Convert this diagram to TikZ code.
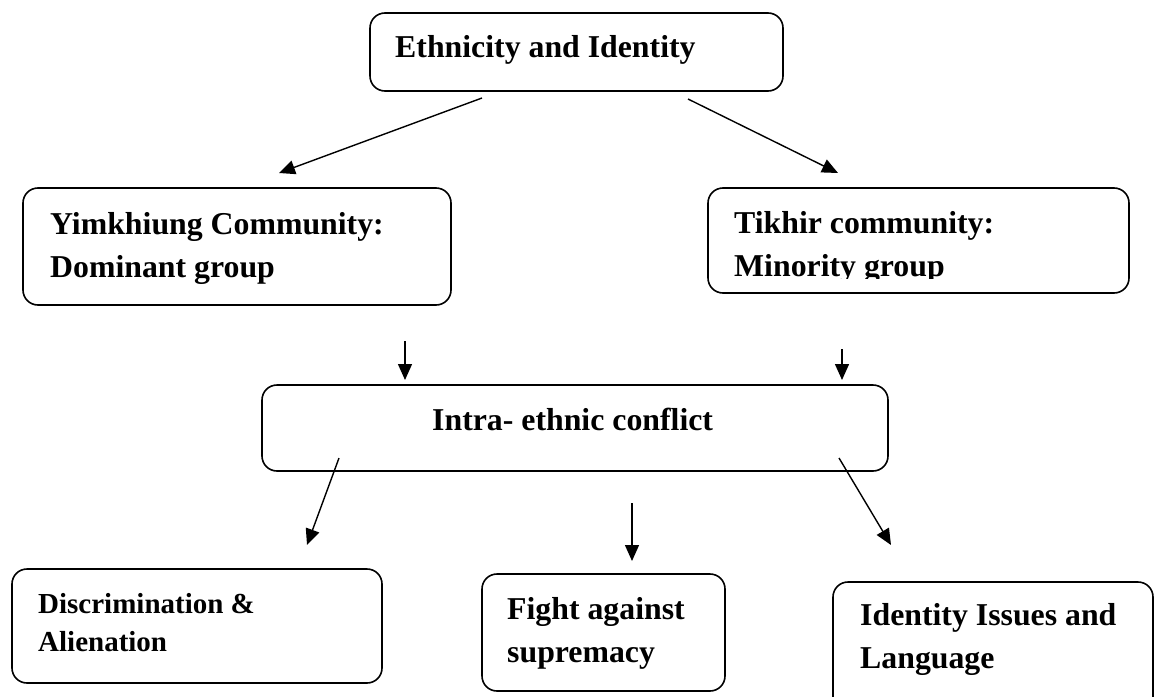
\documentclass[tikz,border=0pt]{standalone}
\usepackage{fontspec}
\setmainfont{Liberation Serif}
\usetikzlibrary{arrows.meta}
\begin{document}
\begin{tikzpicture}[x=1pt, y=-1pt, line join=round, >={Triangle[length=16pt,width=14pt]},
        khung/.style={draw, line width=1.6pt, rounded corners=15pt, inner sep=0pt},
        chu/.style={anchor=base west, inner sep=0pt, align=left, font=\bfseries\fontsize{31.8}{42.5}\selectfont},
        chunho/.style={chu, font=\bfseries\fontsize{29}{38}\selectfont},
        muiten/.style={->, line width=1.4pt}]
                \clip (0,0) rectangle (1156,696);
                % cac khung
                \node[khung, minimum width=413pt, minimum height=78pt] (eth) at (576.5,52) {};
                \node[khung, minimum width=428pt, minimum height=117pt] (yim) at (237,246.5) {};
                \node[khung, minimum width=421pt, minimum height=105pt] (tik) at (918.5,240.5) {};
                \node[khung, minimum width=626pt, minimum height=86pt] (intra) at (575,428) {};
                \node[khung, minimum width=370pt, minimum height=114pt] (dis) at (197,626) {};
                \node[khung, minimum width=243pt, minimum height=117pt] (fight) at (603.5,632.5) {};
                \node[khung, minimum width=320pt, minimum height=138pt] (iden) at (993,651) {};
                % chu trong khung (goc = dong cuoi)
                \node[chu] (eth-t) at (395,57) {Ethnicity and Identity};
                \node[chu] (yim-t) at (50,277) {Yimkhiung Community:\\Dominant group};
                \begin{scope}
                \clip (700,180) rectangle (1125,278);
                \node[chu] (tik-t) at (734,276) {Tikhir community:\\Minority group};
                \end{scope}
                \node[chu] (intra-t) at (432,430) {Intra- ethnic conflict};
                \node[chunho] (dis-t) at (38,651) {Discrimination \&\\Alienation};
                \node[chu] (fight-t) at (507,662) {Fight against\\supremacy};
                \node[chu] (iden-t) at (860,668) {Identity Issues and\\Language};
                % dau va cuoi mui ten
                \coordinate (e1) at (482,98);
                \coordinate (e2) at (688,99);
                \coordinate (y1) at (279,173);
                \coordinate (t1) at (838,173);
                \coordinate (y2) at (405,341);
                \coordinate (t2) at (842,349);
                \coordinate (i1) at (405,380);
                \coordinate (i2) at (842,380);
                \coordinate (i3) at (339,458);
                \coordinate (i4) at (632,503);
                \coordinate (i5) at (839,458);
                \coordinate (d1) at (307,545);
                \coordinate (f1) at (632,561);
                \coordinate (n1) at (891,545);
                \foreach \a/\b in {e1/y1, e2/t1, y2/i1, t2/i2, i3/d1, i4/f1, i5/n1}
                        \draw[muiten] (\a)--(\b);
\end{tikzpicture}
\end{document}
